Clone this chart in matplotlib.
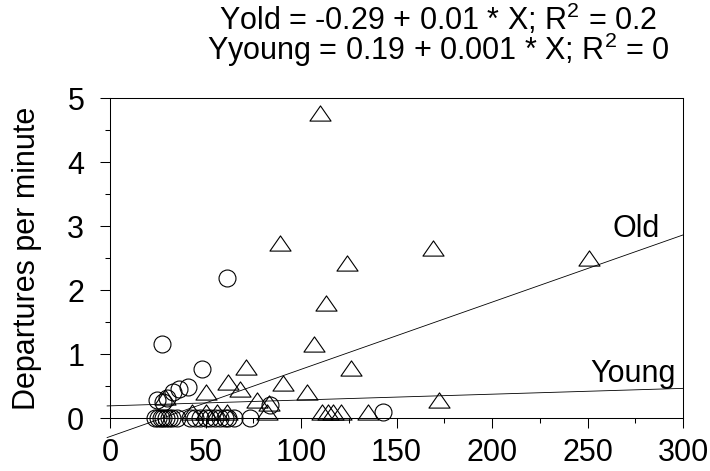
import numpy as np
import matplotlib
matplotlib.use("Agg")
import matplotlib.pyplot as plt
from matplotlib.path import Path
from matplotlib.ticker import MultipleLocator

plt.rcParams["font.family"] = ["Liberation Sans", "DejaVu Sans"]
plt.rcParams["mathtext.default"] = "regular"

# Young birds (circles)
young_x = [23.5, 25.3, 26.5, 28, 29.3, 30.7, 32.3, 35, 42, 44.5, 47, 50, 52.5, 55,
           57.6, 60.2, 62, 65, 73.3,
           27, 48, 41, 36, 33, 30, 24.4, 28, 84, 143, 61]
young_y = [0, 0, 0, 0, 0, 0, 0, 0, 0, 0, 0, 0, 0, 0,
           0, 0, 0, 0, 0,
           1.15, 0.77, 0.49, 0.45, 0.41, 0.31, 0.28, 0.25, 0.2, 0.1, 2.18]

# Old birds (triangles)
old_x = [110, 89, 124, 169, 251, 113, 107, 126, 71, 62, 68, 90.5, 103, 50, 77, 83,
         29, 172,
         43, 50, 56, 61, 82, 111, 114, 117, 121, 135]
old_y = [4.77, 2.74, 2.42, 2.65, 2.5, 1.8, 1.15, 0.78, 0.8, 0.57, 0.46, 0.54, 0.41,
         0.41, 0.28, 0.23, 0.33, 0.28,
         0.1, 0.1, 0.1, 0.1, 0.1, 0.1, 0.1, 0.1, 0.1, 0.1]

# Regression fits (intercept, slope)
old_fit = (-0.29, 0.0105)
young_fit = (0.19, 0.00091)
fit_x = np.array([-1.5, 300])

title_text = ("Yold = -0.29 + 0.01 * X; R$^2$ = 0.2\n"
              "Yyoung = 0.19 + 0.001 * X; R$^2$ = 0")

FS = 22

fig = plt.figure(figsize=(7.1, 4.71), dpi=100)
ax = fig.add_axes([110 / 710, 53 / 471, 573 / 710, 320 / 471])

# flattened open triangle marker
tri = Path([(-1, -0.72), (1, -0.72), (0, 0.72), (-1, -0.72)],
           [Path.MOVETO, Path.LINETO, Path.LINETO, Path.CLOSEPOLY])

ax.plot(young_x, young_y, linestyle="none", marker="o", markersize=12.2,
        markerfacecolor="none", markeredgecolor="black", markeredgewidth=0.8,
        clip_on=False, zorder=3)
ax.plot(old_x, old_y, linestyle="none", marker=tri, markersize=15.2,
        markerfacecolor="none", markeredgecolor="black", markeredgewidth=0.8,
        clip_on=False, zorder=3)

ax.plot(fit_x, old_fit[0] + old_fit[1] * fit_x, color="black", lw=0.6,
        clip_on=False, zorder=2)
ax.plot(fit_x, young_fit[0] + young_fit[1] * fit_x, color="black", lw=0.6,
        clip_on=False, zorder=2)

ax.text(288, 2.83, "Old", fontsize=FS, ha="right", va="baseline")
ax.text(296, 0.57, "Young", fontsize=FS, ha="right", va="baseline")

ax.set_xlim(0, 300)
ax.set_ylim(0, 5)
ax.xaxis.set_major_locator(MultipleLocator(50))
ax.xaxis.set_minor_locator(MultipleLocator(25))
ax.yaxis.set_major_locator(MultipleLocator(1))
ax.yaxis.set_minor_locator(MultipleLocator(0.5))
ax.tick_params(which="major", direction="out", length=7.5, width=0.75,
               labelsize=FS)
ax.tick_params(which="minor", direction="out", length=3.8, width=0.75)
ax.tick_params(axis="x", which="major", pad=7)
ax.tick_params(axis="y", which="major", pad=11)
for s in ax.spines.values():
    s.set_linewidth(0.75)

ax.set_ylabel("Departures per minute", fontsize=FS)
ax.yaxis.set_label_coords(-0.118, 0.5)

fig.text(438 / 710, 1 - 35.5 / 471, title_text, fontsize=FS,
         ha="center", va="center", linespacing=0.8)

fig.savefig("out.png", dpi=100)
